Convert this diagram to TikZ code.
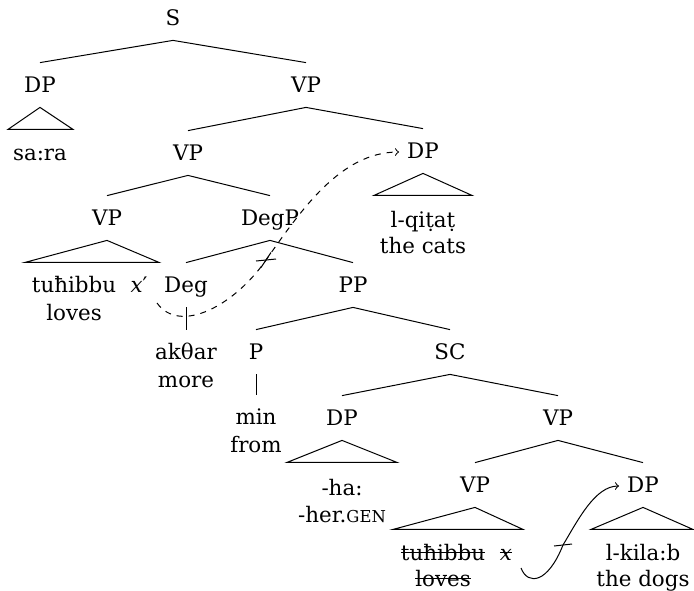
\documentclass[tikz,border=0pt]{standalone}
\usepackage{fontspec}
\setmainfont{DejaVu Serif}
\newsavebox\strikebox
% struck-through text: a thin rule across the middle of the word
\newcommand\struck[1]{\sbox\strikebox{#1}\rlap{\rule[0.6ex]{\wd\strikebox}{0.5pt}}\usebox\strikebox}
% fake small capitals for glosses
\newcommand\glosssc[1]{{\fontsize{8.2}{10}\selectfont #1}}
\begin{document}
\begin{tikzpicture}[x=0.5pt,y=-0.5pt,
  lbl/.style={inner sep=0pt,text height=10pt,text depth=3pt,minimum height=22pt,
              font=\fontsize{10.7}{13}\selectfont},
  branch/.style={line width=0.5pt},
  tri/.style={line width=0.5pt},
  movement/.style={line width=0.5pt,dashed,->},
  hop/.style={line width=0.5pt,->}]
\useasboundingbox (0,0) rectangle (694,590);

% phrase labels
\node[lbl] (S)    at (173,18)  {S};
\node[lbl] (DPa)  at (40,85)   {DP};
\node[lbl] (VPa)  at (306,85)  {VP};
\node[lbl] (VPb)  at (188,153) {VP};
\node[lbl] (DPc)  at (423,151) {DP};
\node[lbl] (VPc)  at (107,218) {VP};
\node[lbl] (DegP) at (270,218) {DegP};
\node[lbl] (Deg)  at (186,285) {Deg};
\node[lbl] (PP)   at (353,285) {PP};
\node[lbl] (P)    at (256,352) {P};
\node[lbl] (SC)   at (450,352) {SC};
\node[lbl] (DPh)  at (342,418) {DP};
\node[lbl] (VPd)  at (558,418) {VP};
\node[lbl] (VPe)  at (475,485) {VP};
\node[lbl] (DPd)  at (643,485) {DP};

% leaves
\node[lbl] (sara)    at (40,153)  {sa:ra};
\node[lbl] (qitat)   at (423,220) {l-qiṭaṭ};
\node[lbl] (cats)    at (423,246) {the cats};
\node[lbl] (tuh)     at (74,285)  {tuħibbu};
\node[lbl] (loves)   at (74,313)  {loves};
\node[lbl] (xp)      at (139,285) {\itshape x\/\normalfont′};
\node[lbl] (akthar)  at (186,352) {akθar};
\node[lbl] (more)    at (186,380) {more};
\node[lbl] (min)     at (256,417) {min};
\node[lbl] (from)    at (256,445) {from};
\node[lbl] (ha)      at (342,488) {-ha:};
\node[lbl] (her)     at (342,515) {-her.\glosssc{GEN}};
\node[lbl] (tuhb)    at (443,553) {\struck{tuħibbu}};
\node[lbl] (lovesb)  at (443,579) {\struck{loves}};
\node[lbl] (xb)      at (506,553) {\struck{\itshape x}};
\node[lbl] (kilab)   at (643,553) {l-kila:b};
\node[lbl] (dogs)    at (643,579) {the dogs};

% branches
\draw[branch] (DPa.north) -- (S.south) -- (VPa.north);
\draw[branch] (VPb.north) -- (VPa.south) -- (DPc.north);
\draw[branch] (VPc.north) -- (VPb.south) -- (DegP.north);
\draw[branch] (Deg.north) -- (DegP.south) -- (PP.north);
\draw[branch] (P.north) -- (PP.south) -- (SC.north);
\draw[branch] (DPh.north) -- (SC.south) -- (VPd.north);
\draw[branch] (VPe.north) -- (VPd.south) -- (DPd.north);
\draw[branch] (Deg.south) -- (akthar.north);
\draw[branch] (P.south) -- (min.north);

% triangles over unanalysed constituents
\draw[tri] (DPa.south) -- ++(-32,22) -- ++(65,0) -- cycle;
\draw[tri] (DPc.south) -- ++(-49,22) -- ++(98,0) -- cycle;
\draw[tri] (VPc.south) -- ++(-82,22) -- ++(134,0) -- cycle;
\draw[tri] (DPh.south) -- ++(-55,22) -- ++(110,0) -- cycle;
\draw[tri] (VPe.south) -- ++(-82,22) -- ++(130,0) -- cycle;
\draw[tri] (DPd.south) -- ++(-52,22) -- ++(102,0) -- cycle;

% blocked movement of x' to the object DP
\coordinate (mvA) at (157,303);
\coordinate (mvX) at (266,260);
\coordinate (mvB) at (399,152);
\draw[movement] (mvA) .. controls (180,335) and (235,305) .. (mvX)
                      .. controls (300,212) and (340,152) .. (mvB);
\draw[line width=0.5pt] (mvX) ++(-10,1) -- ++(20,-2);
\draw[line width=0.5pt] (mvX) ++(-5,7.5) -- ++(10,-15);

% blocked movement of x to the lower DP
\coordinate (hpA) at (521,568);
\coordinate (hpX) at (563,545);
\coordinate (hpB) at (619,486);
\draw[hop] (hpA) .. controls (528,586) and (548,583) .. (hpX)
                 .. controls (578,520) and (595,486) .. (hpB);
\draw[line width=0.5pt] (hpX) ++(-9,1) -- ++(18,-2);
\end{tikzpicture}
\end{document}
